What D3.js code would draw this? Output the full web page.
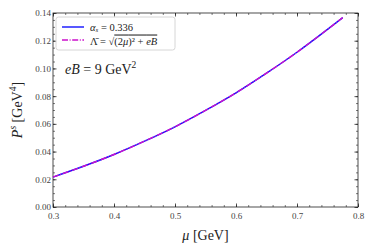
<!DOCTYPE html>
<html>
<head>
<meta charset="utf-8">
<script src="https://cdn.jsdelivr.net/npm/d3@7"></script>
<style>
  html, body { margin: 0; padding: 0; background: #fff; }
  svg { display: block; }
  .math { font-family: 'Liberation Serif', 'DejaVu Serif', serif; }
</style>
</head>
<body>
<div class="chart"></div>
<script>
// chemical potential mu [GeV]
const muValues = [0.30, 0.35, 0.40, 0.45, 0.50, 0.55, 0.60, 0.65, 0.70, 0.75, 0.775]
// P^s for alpha_s = 0.336
const pressureAlpha = [0.0216, 0.0294, 0.0379, 0.0475, 0.0579, 0.0697, 0.0824, 0.0966, 0.1117, 0.1282, 0.1367]
// P^s for Lambda-bar = sqrt((2mu)^2 + eB)
const pressureLambda = [0.0216, 0.0294, 0.0379, 0.0475, 0.0579, 0.0697, 0.0824, 0.0966, 0.1117, 0.1282, 0.1367]

const xTicks = [0.3, 0.4, 0.5, 0.6, 0.7, 0.8]
const yTicks = [0.00, 0.02, 0.04, 0.06, 0.08, 0.10, 0.12, 0.14]

const width = 374
const height = 249
const margin = { top: 13, right: 16, bottom: 42, left: 53 }
const w = width - margin.left - margin.right
const h = height - margin.top - margin.bottom

const svg = d3.select('.chart').append('svg')
  .attr('width', width)
  .attr('height', height)

const g = svg.append('g')
  .attr('transform', 'translate(' + margin.left + ',' + margin.top + ')')

const x = d3.scaleLinear().domain([0.3, 0.8]).range([0, w])
const y = d3.scaleLinear().domain([0, 0.14]).range([h, 0])

const xMinor = d3.range(0.3, 0.8001, 0.02).map(v => +v.toFixed(3))
const yMinor = d3.range(0, 0.14001, 0.005).map(v => +v.toFixed(4))

// style tick labels in a serif face
function styleLabels (s) {
  s.attr('font-family', null).attr('font-size', null)
  s.select('.domain').remove()
  s.selectAll('text')
    .attr('class', 'math')
    .attr('font-size', 9)
    .attr('fill', '#444')
}

// minor ticks (all four sides, pointing inward)
function minorAxis (axis, scale, vals, tx, ty) {
  g.append('g')
    .attr('transform', 'translate(' + tx + ',' + ty + ')')
    .call(axis(scale).tickValues(vals).tickSize(2).tickFormat(''))
    .call(s => s.select('.domain').remove())
    .call(s => s.selectAll('line').attr('stroke', '#222').attr('stroke-width', 0.6))
}
minorAxis(d3.axisTop, x, xMinor, 0, h)
minorAxis(d3.axisBottom, x, xMinor, 0, 0)
minorAxis(d3.axisRight, y, yMinor, 0, 0)
minorAxis(d3.axisLeft, y, yMinor, w, 0)

// major tick labels
g.append('g')
  .attr('transform', 'translate(0,' + h + ')')
  .call(d3.axisBottom(x).tickValues(xTicks).tickSize(0).tickPadding(6).tickFormat(d3.format('.1f')))
  .call(styleLabels)
g.append('g')
  .call(d3.axisLeft(y).tickValues(yTicks).tickSize(0).tickPadding(2).tickFormat(d3.format('.2f')))
  .call(styleLabels)

function majorAxis (axis, scale, vals, tx, ty) {
  g.append('g')
    .attr('transform', 'translate(' + tx + ',' + ty + ')')
    .call(axis(scale).tickValues(vals).tickSize(3.5).tickFormat(''))
    .call(s => s.select('.domain').remove())
    .call(s => s.selectAll('line').attr('stroke', '#222').attr('stroke-width', 0.8))
}
majorAxis(d3.axisTop, x, xTicks, 0, h)
majorAxis(d3.axisBottom, x, xTicks, 0, 0)
majorAxis(d3.axisRight, y, yTicks, 0, 0)
majorAxis(d3.axisLeft, y, yTicks, w, 0)

// frame
g.append('rect')
  .attr('width', w).attr('height', h)
  .attr('fill', 'none').attr('stroke', '#222').attr('stroke-width', 0.8)

// curves
const line = d3.line()
  .x(d => x(d[0]))
  .y(d => y(d[1]))
  .curve(d3.curveNatural)

g.append('path')
  .datum(muValues.map((m, i) => [m, pressureAlpha[i]]))
  .attr('d', line)
  .attr('fill', 'none')
  .attr('stroke', '#1010ff')
  .attr('stroke-width', 1.4)

g.append('path')
  .datum(muValues.map((m, i) => [m, pressureLambda[i]]))
  .attr('d', line)
  .attr('fill', 'none')
  .attr('stroke', '#cc11cc')
  .attr('stroke-width', 1.4)
  .attr('stroke-dasharray', '6,1.6,1,1.6')

// legend
const legend = g.append('g').attr('transform', 'translate(3,4)')
legend.append('rect')
  .attr('width', 119).attr('height', 33)
  .attr('rx', 2.5)
  .attr('fill', '#fff').attr('fill-opacity', 0.8)
  .attr('stroke', '#ccc').attr('stroke-width', 0.8)

legend.append('line')
  .attr('x1', 6).attr('x2', 28).attr('y1', 10).attr('y2', 10)
  .attr('stroke', '#1010ff').attr('stroke-width', 1.4)
legend.append('line')
  .attr('x1', 6).attr('x2', 28).attr('y1', 23).attr('y2', 23)
  .attr('stroke', '#cc11cc').attr('stroke-width', 1.4)
  .attr('stroke-dasharray', '6,1.6,1,1.6')

const t1 = legend.append('text').attr('class', 'math')
  .attr('x', 34).attr('y', 13.5).attr('font-size', 10.5).attr('fill', '#222')
t1.append('tspan').attr('font-style', 'italic').text('α')
t1.append('tspan').attr('font-style', 'italic').attr('font-size', 7).attr('dy', 1.5).text('s')
t1.append('tspan').attr('dy', -1.5).text(' = 0.336')

const t2 = legend.append('text').attr('class', 'math')
  .attr('x', 34).attr('y', 27.5).attr('font-size', 10.5).attr('fill', '#222')
t2.append('tspan').text('Λ\u0304 = √')
t2.append('tspan').attr('text-decoration', 'overline').text('(2')
t2.append('tspan').attr('font-style', 'italic').attr('text-decoration', 'overline').text('μ')
t2.append('tspan').attr('text-decoration', 'overline').text(')² + ')
t2.append('tspan').attr('font-style', 'italic').attr('text-decoration', 'overline').text('eB')

// field annotation
const ann = g.append('text').attr('class', 'math')
  .attr('x', 12).attr('y', 61).attr('font-size', 14).attr('fill', '#222')
ann.append('tspan').attr('font-style', 'italic').text('eB')
ann.append('tspan').text(' = 9 GeV')
ann.append('tspan').attr('font-size', 9.5).attr('dy', -6).text('2')

// axis labels
const xl = svg.append('text').attr('class', 'math')
  .attr('x', margin.left + w / 2).attr('y', 240)
  .attr('text-anchor', 'middle').attr('font-size', 14).attr('fill', '#222')
xl.append('tspan').attr('font-style', 'italic').text('μ')
xl.append('tspan').text(' [GeV]')

const yl = svg.append('text').attr('class', 'math')
  .attr('transform', 'translate(22,' + (margin.top + h / 2) + ') rotate(-90)')
  .attr('text-anchor', 'middle').attr('font-size', 14).attr('fill', '#222')
yl.append('tspan').attr('font-style', 'italic').text('P')
yl.append('tspan').attr('font-style', 'italic').attr('font-size', 9.5).attr('dy', -6).text('s')
yl.append('tspan').attr('dy', 6).text(' [GeV')
yl.append('tspan').attr('font-size', 9.5).attr('dy', -6).text('4')
yl.append('tspan').attr('dy', 6).text(']')
</script>
</body>
</html>
